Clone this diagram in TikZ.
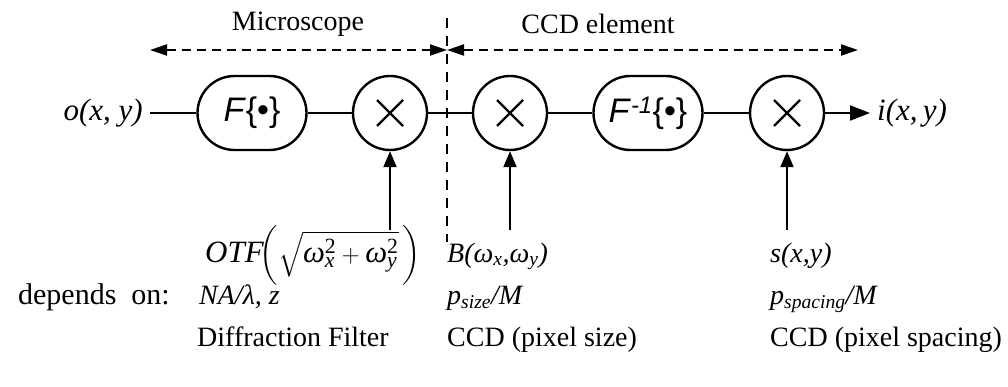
\documentclass[tikz,border=0pt]{standalone}
\usepackage{amsmath}
\usepackage{fontspec}
\setmainfont{Liberation Serif}
\newfontfamily\boxfont{Liberation Sans}
\usetikzlibrary{arrows.meta}

% italic letter inside math, taken from the text font
\newcommand\iv[1]{\text{\itshape #1}}

\tikzset{
  wire/.style={line width=2pt},
  mult/.style={circle, draw, line width=2.4pt, minimum size=74pt, inner sep=0pt,
    path picture={
      \draw[line width=2.4pt] (path picture bounding box.center) ++(-13pt,-13pt) -- ++(26pt,26pt);
      \draw[line width=2.4pt] (path picture bounding box.center) ++(-13pt,13pt) -- ++(26pt,-26pt);
    }},
  xfm/.style={draw, line width=2.4pt, rounded corners=37pt, minimum width=109pt,
    minimum height=74pt, inner sep=0pt, font=\boxfont\fontsize{34}{40}\selectfont},
  lbl/.style={anchor=base west, inner sep=0pt, font=\fontsize{28}{34}\selectfont},
  head/.style={inner sep=0pt, font=\fontsize{28}{34}\selectfont},
  sig/.style={inner sep=0pt, font=\fontsize{31}{36}\selectfont\itshape},
  tip/.style={-{Triangle[length=16pt,width=13pt]}},
  outtip/.style={-{Triangle[length=20pt,width=15pt]}},
  span/.style={line width=2pt, dash pattern=on 9pt off 6pt,
    {Triangle[length=17pt,width=11pt]}-{Triangle[length=17pt,width=11pt]}},
}

\begin{document}
\begin{tikzpicture}[x=1pt,y=-1pt]
\useasboundingbox (0,0) rectangle (1008,387);

% section headings and their extents
\node[head] (mic) at (298,24) {Microscope};
\node[head] (ccd) at (598,24) {CCD element};
\coordinate (la) at (150,50);
\coordinate (mid) at (447,50);
\coordinate (ra) at (858,50);
\draw[span] (la) -- (mid);
\draw[span] (mid) -- (ra);
\coordinate (vt) at (447,18);
\coordinate (vb) at (447,242);
\draw[line width=2pt, dash pattern=on 10pt off 8pt] (vt) -- (vb);

% signal chain
\node[sig, anchor=east] (o) at (143,113) {o(x, y)};
\node[xfm] (f) at (252,113) {\textit{F}\{•\}};
\node[mult] (m1) at (390,113) {};
\node[mult] (m2) at (510,113) {};
\node[xfm] (fi) at (648,113) {\textit{F}\textsuperscript{\itshape -1}\{•\}};
\node[mult] (m3) at (787,113) {};
\node[sig, anchor=west] (i) at (877,113) {i(x,\,y)};
\coordinate (oend) at (150,113);
\coordinate (iend) at (870,113);

\draw[wire] (oend) -- (f);
\draw[wire] (f) -- (m1);
\draw[wire] (m1) -- (m2);
\draw[wire] (m2) -- (fi);
\draw[wire] (fi) -- (m3);
\draw[wire, outtip] (m3) -- (iend);

% multiplier inputs
\coordinate (c1) at (390,230);
\coordinate (c2) at (510,230);
\coordinate (c3) at (787,230);
\draw[wire, tip] (c1) -- (m1);
\draw[wire, tip] (c2) -- (m2);
\draw[wire, tip] (c3) -- (m3);

% factor descriptions
\node[lbl, font=\fontsize{31}{36}\selectfont] (otf) at (205,262)
  {\textit{OTF}$\!\biggl(\sqrt{\iv{ω}_{\iv{x}}^{\text{2}}+\iv{ω}_{\iv{y}}^{\text{2}}}\,\biggr)$};
\node[lbl, anchor=base east, font=\fontsize{30}{36}\selectfont] (dep) at (170,304)
  {depends\hspace{15pt}on:};
\node[lbl] (na) at (199,304) {\itshape NA/λ, z};
\node[lbl] (dfl) at (197,346) {Diffraction Filter};

\node[lbl] (bw) at (447,262) {\itshape B(ω\textsubscript{x},ω\textsubscript{y})};
\node[lbl] (ps) at (447,304) {\itshape p\textsubscript{size}/M};
\node[lbl] (cs) at (447,346) {CCD (pixel size)};

\node[lbl] (sxy) at (770,262) {\itshape s(x,y)};
\node[lbl] (pp) at (770,304) {\itshape p\textsubscript{spacing}/M};
\node[lbl] (cp) at (770,346) {CCD (pixel spacing)};
\end{tikzpicture}
\end{document}
